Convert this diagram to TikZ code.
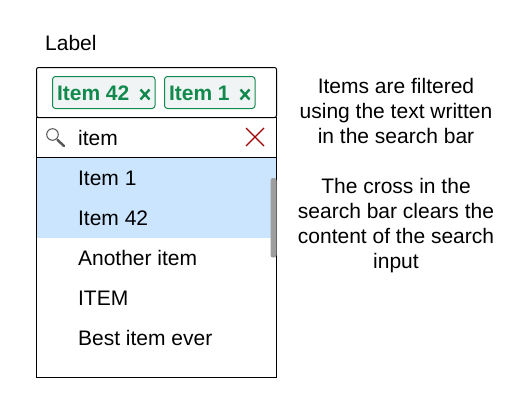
\documentclass[tikz,border=0pt]{standalone}
\usepackage{fontspec}
\setmainfont{Liberation Sans}
\begin{document}
\begin{tikzpicture}[x=1pt,y=-1pt,line width=1pt,
  txt/.style={inner sep=0pt,font=\fontsize{21}{24}\selectfont,anchor=base west,text=black},
  note/.style={inner sep=0pt,font=\fontsize{21}{25}\selectfont,align=center,text=black},
  tagbox/.style={draw=tagg,fill=tagf,rounded corners=3pt,line width=1pt},
  tagtxt/.style={inner sep=0pt,font=\fontsize{21}{24}\selectfont\bfseries,anchor=base west,text=tagg},
  tagx/.style={draw=tagg,line width=2.4pt},
  panel/.style={draw=black,line width=1pt},
  hilite/.style={fill=hl,draw=none}]
\definecolor{tagg}{HTML}{128A4D}
\definecolor{tagf}{HTML}{F0F4F5}
\definecolor{hl}{HTML}{CCE5FF}
\definecolor{crossc}{HTML}{A20000}
\useasboundingbox (0,0) rectangle (527,407);
\fill[white] (0,0) rectangle (527,407);
\node[txt] (label) at (44.7,50) {Label};
\fill[hilite] (37,158) rectangle (276,198);
\fill[hilite] (37,198.4) rectangle (276,238);
\draw[panel,rounded corners=2pt] (36.5,67.5) rectangle (276.5,117.5);
\draw[panel] (36.5,117.5) rectangle (276.5,157.5);
\draw[panel] (36.5,157.5) rectangle (276.5,377.5);
\draw[tagbox] (52.5,76.5) rectangle (155,108.5);
\node[tagtxt] (t1) at (56.5,100) {Item 42};
\draw[tagx] (140.5,89.5) -- (149.5,99.5) (149.5,89.5) -- (140.5,99.5);
\draw[tagbox] (164.5,76.5) rectangle (255,108.5);
\node[tagtxt] (t2) at (168.5,100) {Item 1};
\draw[tagx] (240.5,89.5) -- (249.5,99.5) (249.5,89.5) -- (240.5,99.5);
\draw[black!65,line width=1pt] (52.5,134.5) circle (5.8);
\draw[black!65,line width=2.5pt,line cap=round] (57.5,140) -- (64,146);
\node[txt] (q) at (77.6,145) {item};
\draw[crossc,line width=1.2pt] (246,128) -- (264,146) (264,128) -- (246,146);
\node[txt] (i1) at (77.6,185) {Item 1};
\node[txt] (i2) at (77.6,225) {Item 42};
\node[txt] (i3) at (77.6,265) {Another item};
\node[txt] (i4) at (77.6,305) {ITEM};
\node[txt] (i5) at (77.6,345) {Best item ever};
\fill[black!38,rounded corners=2.5pt] (270.5,178) rectangle (276.5,257.5);
\node[note,anchor=base] (n1) at (396,143) {Items are filtered\\using the text written\\in the search bar};
\node[note,anchor=base] (n2) at (396,268) {The cross in the\\search bar clears the\\content of the search\\input};
\end{tikzpicture}
\end{document}
